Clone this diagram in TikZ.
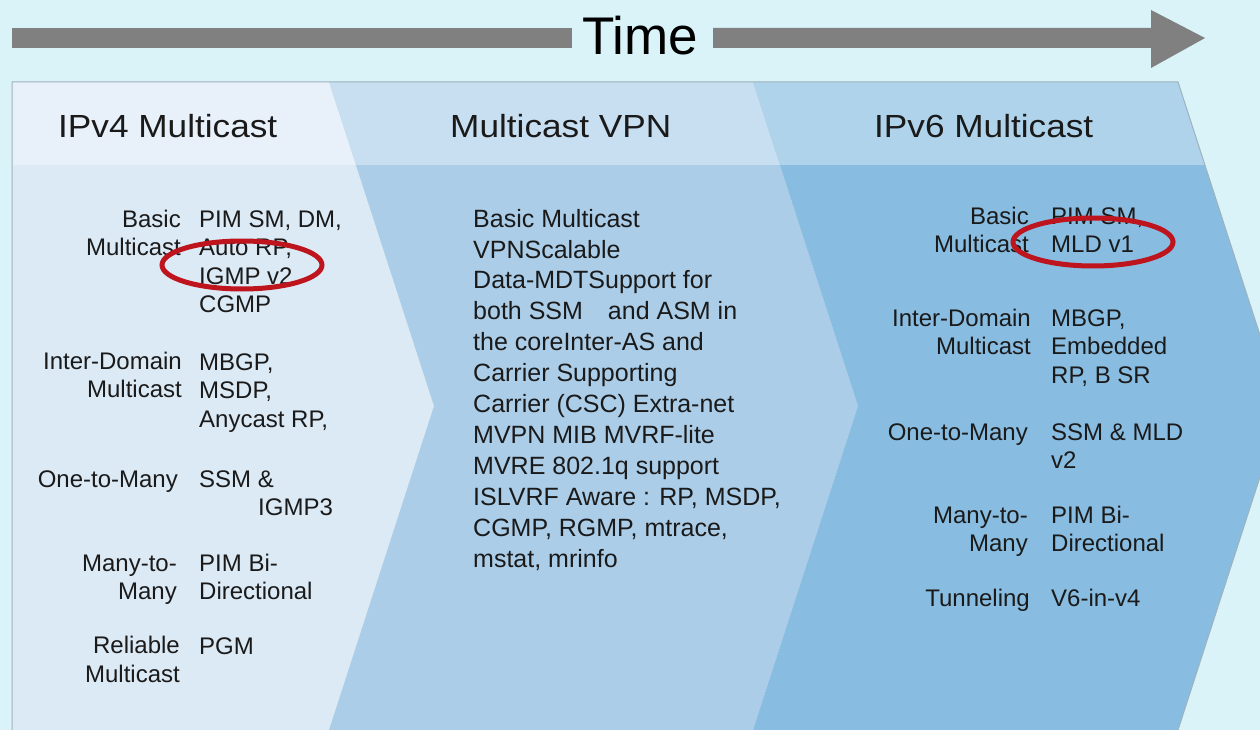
\documentclass[tikz,border=0pt]{standalone}
\usepackage{fontspec}
\setmainfont{Liberation Sans}
\definecolor{bg}{HTML}{DAF3F8}
\definecolor{hdA}{HTML}{E8F1FA}
\definecolor{bdA}{HTML}{DCEAF5}
\definecolor{hdB}{HTML}{C8DEF1}
\definecolor{bdB}{HTML}{ABCDE8}
\definecolor{hdC}{HTML}{AFD3EB}
\definecolor{bdC}{HTML}{88BCE0}
\definecolor{arrowgray}{HTML}{808080}
\definecolor{txt}{HTML}{1A1A1A}
\definecolor{ring}{HTML}{BE141E}
\definecolor{edge}{HTML}{9FB3BC}
\tikzset{
  bodyfont/.style={font=\fontsize{24}{28.5}\selectfont},
  lbl/.style={anchor=base east, inner sep=0pt, align=right, text=txt, bodyfont},
  val/.style={anchor=base west, inner sep=0pt, align=left, text=txt, bodyfont},
  vpntext/.style={anchor=base west, inner sep=0pt, align=left, text=txt, font=\fontsize{25}{30.9}\selectfont},
  head/.style={anchor=base west, inner sep=0pt, text=txt, font=\fontsize{32}{36}\selectfont},
  ringstyle/.style={draw=ring, line width=5pt}
}
\begin{document}
\begin{tikzpicture}[x=1pt,y=-1pt]
\useasboundingbox (0,0) rectangle (1260,730);
\clip (0,0) rectangle (1260,730);
\fill[bg] (0,0) rectangle (1260,730);

% time arrow
\fill[arrowgray] (12,28) rectangle (572,48);
\fill[arrowgray] (713,28) -- (1151,28) -- (1151,10) -- (1205,38) -- (1151,68) -- (1151,48) -- (713,48) -- cycle;
\node[anchor=base, inner sep=0pt, text=black, font=\fontsize{53}{58}\selectfont] (time) at (640,55) {Time};

% segment bodies
\fill[bdA] (12,82) -- (329,82) -- (434,406) -- (329,730) -- (12,730) -- cycle;
\fill[bdB] (329,82) -- (753,82) -- (858,406) -- (753,730) -- (329,730) -- (434,406) -- cycle;
\fill[bdC] (753,82) -- (1178,82) -- (1283,406) -- (1178,730) -- (753,730) -- (858,406) -- cycle;
% headers
\fill[hdA] (12,82) -- (329,82) -- (356,165) -- (12,165) -- cycle;
\fill[hdB] (329,82) -- (753,82) -- (780,165) -- (356,165) -- cycle;
\fill[hdC] (753,82) -- (1178,82) -- (1205,165) -- (780,165) -- cycle;
% outline
\draw[edge, line width=1pt] (12,730) -- (12,82) -- (1178,82) -- (1283,406) -- (1178,730);

% headers text
\node[head] (h1) at (58,138) {\scalebox{1.1}[1]{IPv4 Multicast}};
\node[head] (h2) at (450,138) {\scalebox{1.1}[1]{Multicast VPN}};
\node[head] (h3) at (874,138) {\scalebox{1.1}[1]{IPv6 Multicast}};

% IPv4 column (base anchors = baseline of last line)
\node[lbl] (a1l) at (181,255.5) {Basic\\Multicast};
\node[val] (a1v) at (199,312.5) {PIM SM, DM,\\Auto RP,\\IGMP v2\\CGMP};
\node[lbl] (a2l) at (182,397.5) {Inter-Domain\\Multicast};
\node[val] (a2v) at (199,427) {MBGP,\\MSDP,\\Anycast RP,};
\node[lbl] (a3l) at (178,487) {One-to-Many};
\node[val] (a3v) at (199,487) {SSM \&};
\node[val] (a3w) at (258,515) {IGMP3};
\node[lbl] (a4l) at (177,599.5) {Many-to-\\Many};
\node[val] (a4v) at (199,599.5) {PIM Bi-\\Directional};
\node[lbl] (a5l) at (180,682) {Reliable\\Multicast};
\node[val] (a5v) at (199,654) {PGM};

% VPN column
\node[vpntext] (vpn) at (473,567) {Basic Multicast\\VPNScalable\\Data-MDTSupport for\\both SSM\hspace{25pt}and ASM in\\the coreInter-AS and\\Carrier Supporting\\Carrier (CSC) Extra-net\\MVPN MIB MVRF-lite\\MVRE 802.1q support\\ISLVRF Aware : RP, MSDP,\\CGMP, RGMP, mtrace,\\mstat, mrinfo};

% IPv6 column
\node[lbl] (c1l) at (1029,252.5) {Basic\\Multicast};
\node[val] (c1v) at (1051,252.5) {PIM SM,\\MLD v1};
\node[lbl] (c2l) at (1031,354.5) {Inter-Domain\\Multicast};
\node[val] (c2v) at (1051,383) {MBGP,\\Embedded\\RP, B SR};
\node[lbl] (c3l) at (1028,440) {One-to-Many};
\node[val] (c3v) at (1051,468.5) {SSM \& MLD\\v2};
\node[lbl] (c4l) at (1028,551.5) {Many-to-\\Many};
\node[val] (c4v) at (1051,551.5) {PIM Bi-\\Directional};
\node[lbl] (c5l) at (1030,606) {Tunneling};
\node[val] (c5v) at (1051,606) {V6-in-v4};

% red rings
\draw[ringstyle] (242,265) ellipse [x radius=80pt, y radius=24pt];
\draw[ringstyle] (1093,242) ellipse [x radius=80pt, y radius=24pt];
\end{tikzpicture}
\end{document}
